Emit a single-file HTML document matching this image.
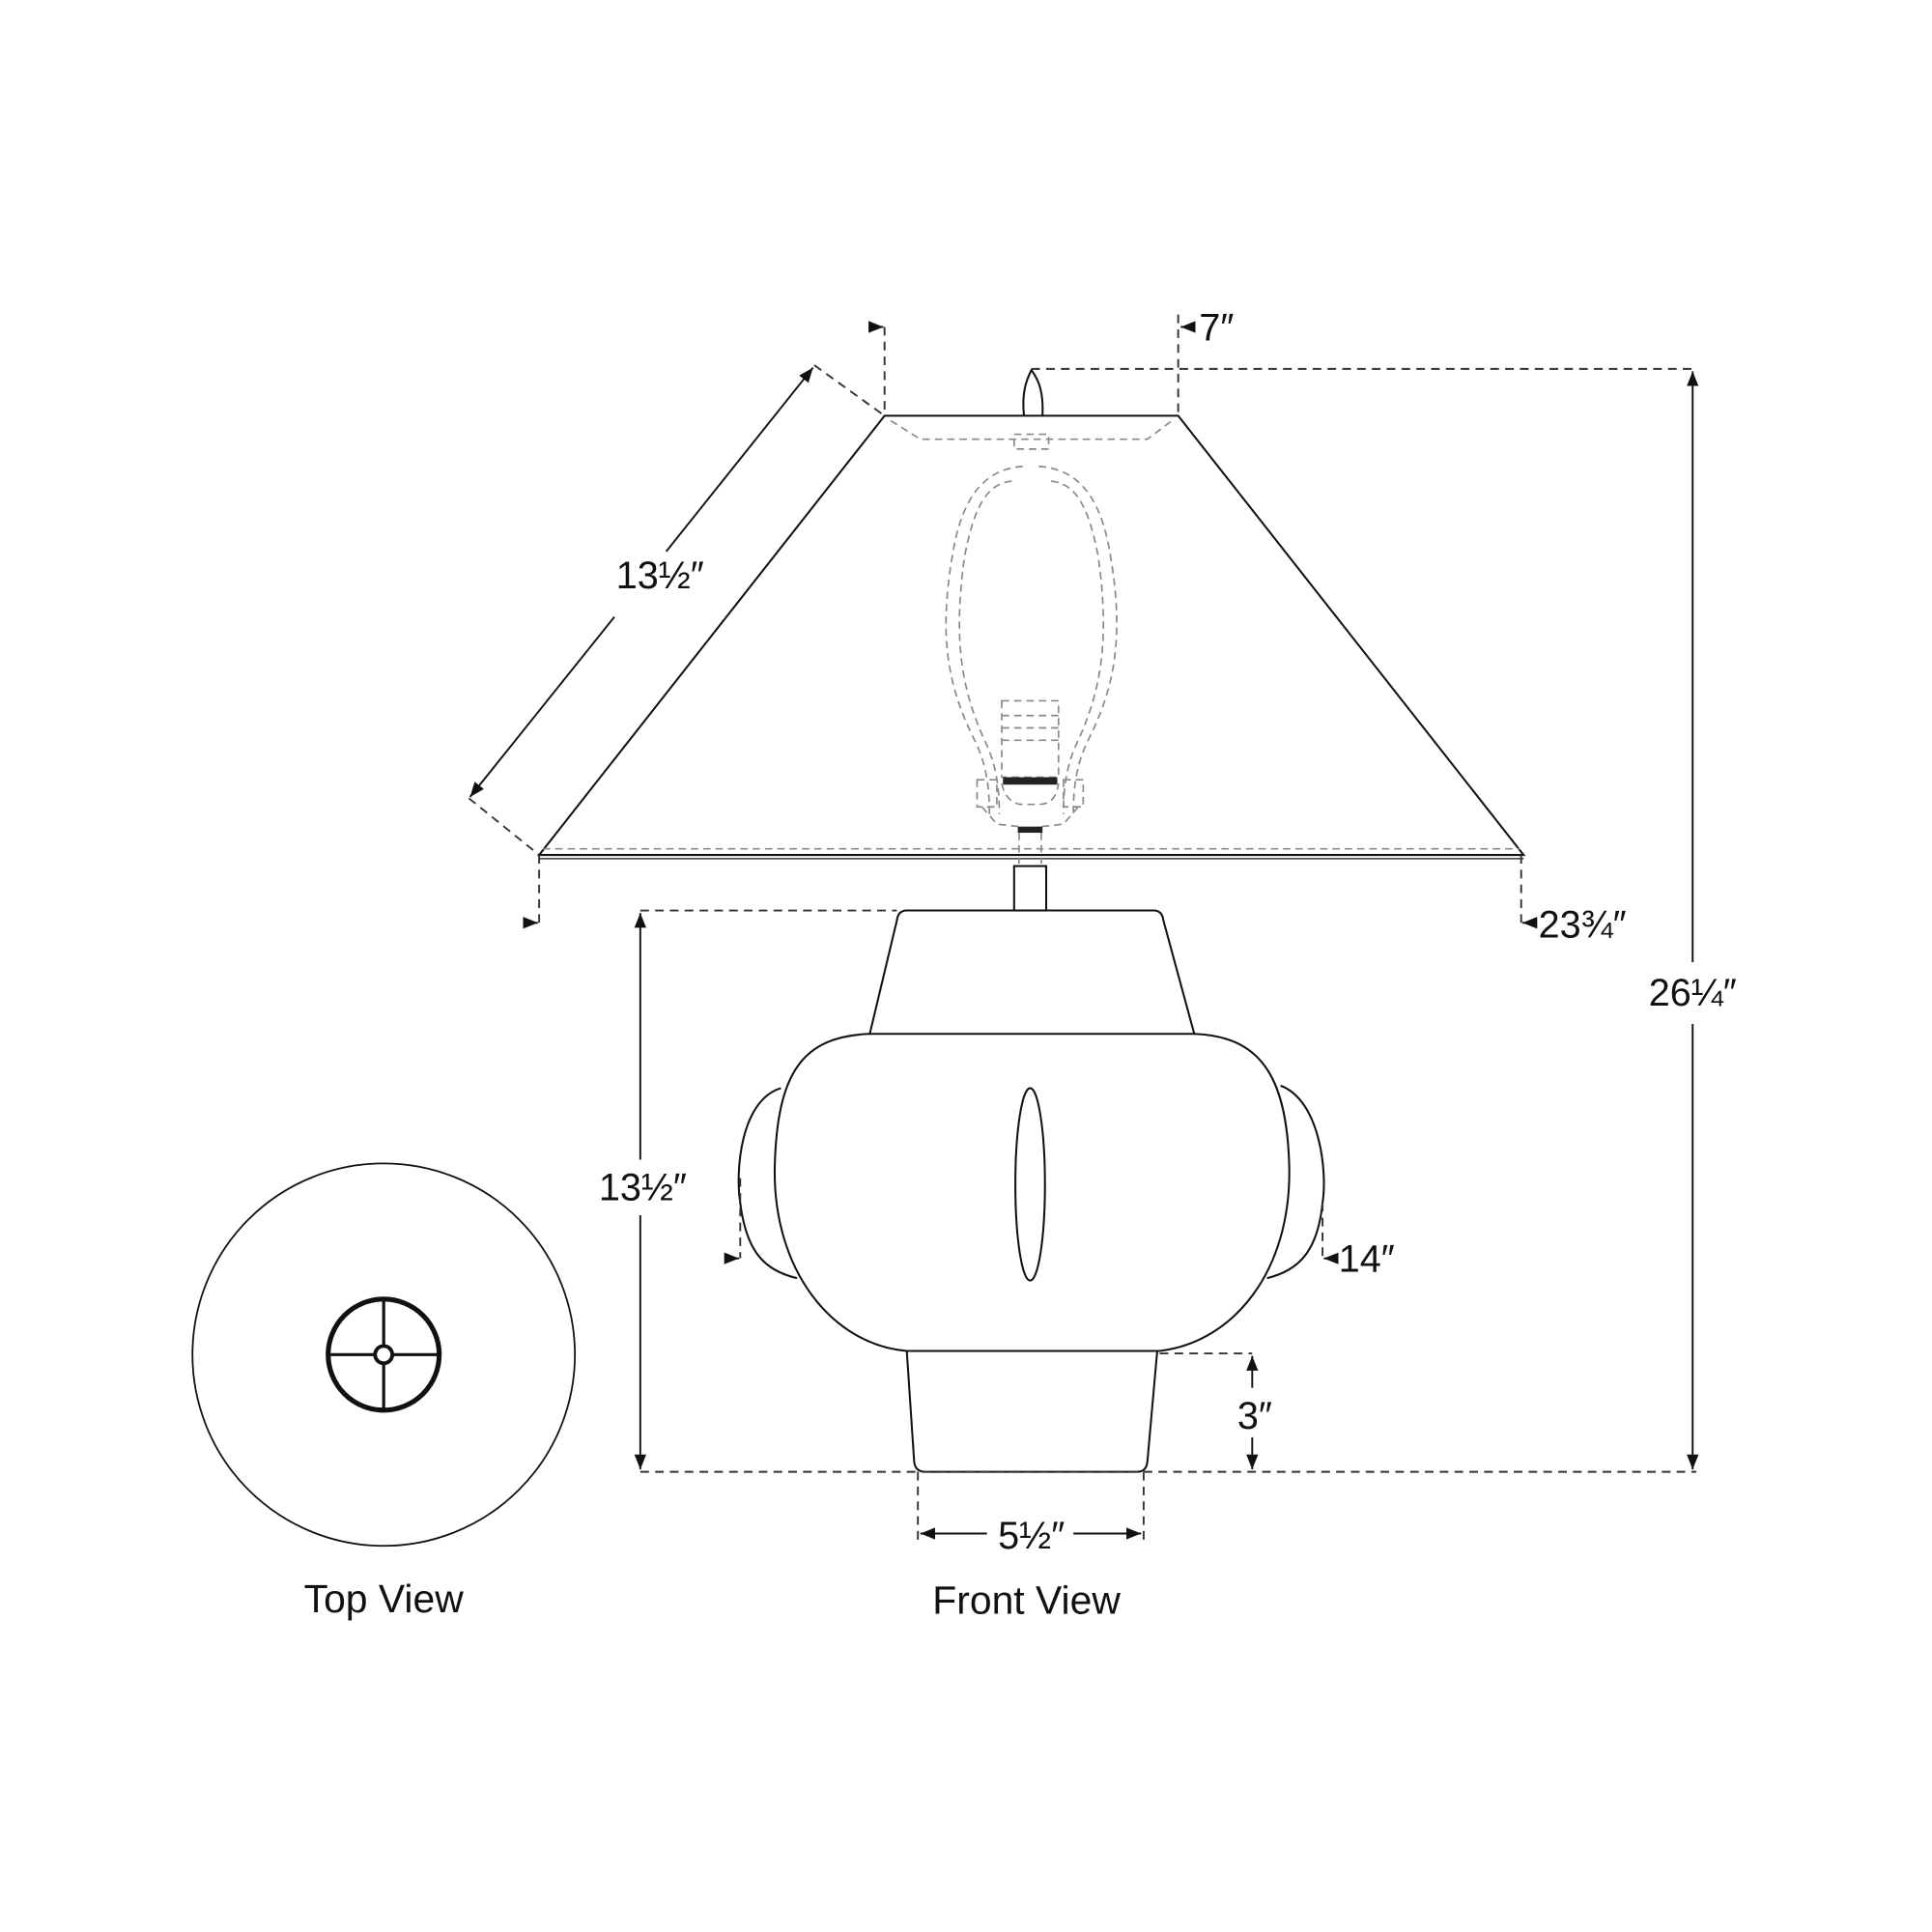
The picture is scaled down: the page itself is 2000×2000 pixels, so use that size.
<!DOCTYPE html>
<html><head><meta charset="utf-8"><style>
html,body{margin:0;padding:0;background:#fff}
svg{display:block}
text{font-family:"Liberation Sans",sans-serif;fill:#111}
</style></head><body>
<svg width="2000" height="2000" viewBox="0 0 1566 1566" xmlns="http://www.w3.org/2000/svg">
<defs>
<marker id="ar" viewBox="0 0 10 10" refX="10" refY="5" markerWidth="8" markerHeight="8" orient="auto-start-reverse"><path d="M0,1 L10,5 L0,9 Z" fill="#111"/></marker>
</defs>
<g fill="none" stroke="#111" stroke-width="1.6">
<path d="M717,337 L955,337 L1235,693 L437,693 Z"/>
<line x1="437" y1="696" x2="1235" y2="696" stroke-width="1"/>
<path d="M830,337 C828,318 832,308 836,300 C842,308 846,318 845,337"/>
<rect x="822" y="702" width="26" height="36"/>
<path d="M735,738 L935,738 Q942,738 943,746 L968,838 L705,838 L727,746 Q728,738 735,738 Z"/>
<path d="M705,838 C650,840 630,870 628,945 C626,1030 675,1090 735,1095 L940,1095 C1000,1088 1047,1030 1045,945 C1043,870 1020,840 968,838"/>
<path d="M633,882 C600,892 596,950 600,975 C605,1015 620,1030 646,1036"/>
<path d="M1038,880 C1070,892 1076,950 1072,975 C1068,1015 1052,1030 1027,1036"/>
<ellipse cx="835" cy="960" rx="12" ry="78"/>
<path d="M735,1095 L741,1185 Q742,1193 750,1193 L922,1193 Q929,1193 930,1185 L938,1095"/>
<circle cx="311" cy="1098" r="155" stroke-width="1.4"/>
<circle cx="311" cy="1098" r="45" stroke-width="4"/>
<line x1="266" y1="1098" x2="356" y2="1098" stroke-width="2.5"/>
<line x1="311" y1="1053" x2="311" y2="1143" stroke-width="2.5"/>
<circle cx="311" cy="1098" r="7" stroke-width="3" fill="#fff"/>
</g>
<g fill="none" stroke="#888" stroke-width="1.3" stroke-dasharray="6,4">
<path d="M722,341 L746,356 L930,356 L950,341"/>
<line x1="440" y1="688" x2="1232" y2="688"/>
<path d="M829,378 C800,380 780,400 772,450 C760,520 770,560 790,600 C800,620 802,640 802,660"/>
<path d="M820,390 C800,392 790,410 782,450 C772,520 780,560 798,600 C808,620 810,640 810,660"/>
<path d="M842,378 C872,380 892,400 900,450 C912,520 902,560 882,600 C872,620 870,640 870,660"/>
<path d="M852,390 C872,392 882,410 890,450 C900,520 892,560 874,600 C864,620 862,640 862,660"/>
<rect x="812" y="568" width="46" height="62"/>
<line x1="812" y1="580" x2="858" y2="580"/><line x1="812" y1="590" x2="858" y2="590"/><line x1="812" y1="600" x2="858" y2="600"/>
<path d="M812,635 C815,650 825,652 828,652 L842,652 C848,652 856,650 858,635"/>
<rect x="792" y="632" width="16" height="22"/><rect x="862" y="632" width="16" height="22"/>
<path d="M796,654 L808,668 L826,670"/><path d="M874,654 L862,668 L844,670"/>
<rect x="822" y="352" width="28" height="12"/>
<line x1="826" y1="675" x2="826" y2="700"/><line x1="844" y1="675" x2="844" y2="700"/>
</g>
<rect x="813" y="630" width="44" height="6" fill="#222"/>
<rect x="825" y="670" width="20" height="5" fill="#222"/>
<g fill="none" stroke="#333" stroke-width="1.5" stroke-dasharray="7,5">
<line x1="836" y1="299" x2="1375" y2="299"/>
<line x1="717" y1="265" x2="717" y2="337"/>
<line x1="955" y1="255" x2="955" y2="337"/>
<line x1="660" y1="296" x2="717" y2="337"/>
<line x1="380" y1="647" x2="437" y2="693"/>
<line x1="437" y1="693" x2="437" y2="748"/>
<line x1="1233" y1="693" x2="1233" y2="748"/>
<line x1="519" y1="738" x2="727" y2="738"/>
<line x1="519" y1="1193" x2="1375" y2="1193"/>
<line x1="940" y1="1097" x2="1015" y2="1097"/>
<line x1="744" y1="1193" x2="744" y2="1248"/>
<line x1="927" y1="1193" x2="927" y2="1248"/>
<line x1="600" y1="955" x2="600" y2="1020"/>
<line x1="1072" y1="975" x2="1072" y2="1020"/>
</g>
<g fill="none" stroke="#111" stroke-width="1.5">
<line x1="1372" y1="301" x2="1372" y2="780" marker-start="url(#ar)"/>
<line x1="1372" y1="830" x2="1372" y2="1191" marker-end="url(#ar)"/>
<line x1="519" y1="740" x2="519" y2="940" marker-start="url(#ar)"/>
<line x1="519" y1="985" x2="519" y2="1191" marker-end="url(#ar)"/>
<line x1="1015" y1="1099" x2="1015" y2="1125" marker-start="url(#ar)"/>
<line x1="1015" y1="1165" x2="1015" y2="1191" marker-end="url(#ar)"/>
<line x1="746" y1="1243" x2="800" y2="1243" marker-start="url(#ar)"/>
<line x1="870" y1="1243" x2="925" y2="1243" marker-end="url(#ar)"/>
<line x1="659" y1="298" x2="540" y2="447" marker-start="url(#ar)"/>
<line x1="498" y1="500" x2="381" y2="646" marker-end="url(#ar)"/>
<line x1="707" y1="265" x2="716" y2="265" marker-end="url(#ar)"/>
<line x1="966" y1="265" x2="957" y2="265" marker-end="url(#ar)"/>
<line x1="427" y1="748" x2="436" y2="748" marker-end="url(#ar)"/>
<line x1="1243" y1="748" x2="1234" y2="748" marker-end="url(#ar)"/>
<line x1="590" y1="1020" x2="599" y2="1020" marker-end="url(#ar)"/>
<line x1="1082" y1="1020" x2="1073" y2="1020" marker-end="url(#ar)"/>
</g>
<g font-size="31">
<text x="972" y="276">7″</text>
<text x="535" y="477" text-anchor="middle">13½″</text>
<text x="1247" y="760">23¾″</text>
<text x="1372" y="815" text-anchor="middle">26¼″</text>
<text x="521" y="973" text-anchor="middle">13½″</text>
<text x="1085" y="1031">14″</text>
<text x="1017" y="1158" text-anchor="middle">3″</text>
<text x="836" y="1255" text-anchor="middle">5½″</text>
<text x="311" y="1307" text-anchor="middle" font-size="32">Top View</text>
<text x="832" y="1308" text-anchor="middle" font-size="32">Front View</text>
</g>
</svg>
</body></html>
